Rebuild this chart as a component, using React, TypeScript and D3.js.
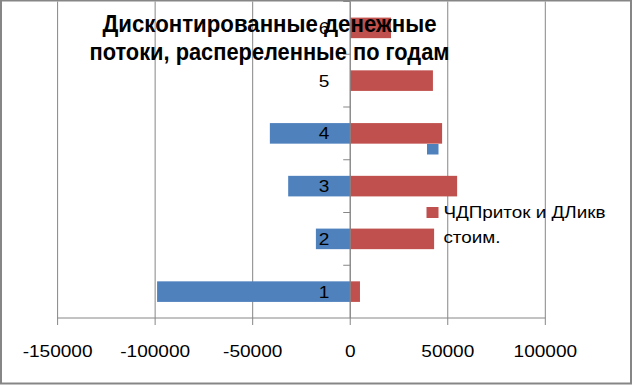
import * as d3 from "d3";

const categories = ["1", "2", "3", "4", "5", "6"];
const outflows = [-99000, -17600, -31800, -41200, 0, 0];
const inflows = [5000, 43000, 54800, 47100, 42400, 20900];
const xTicks = [-150000, -100000, -50000, 0, 50000, 100000];
const titleLines = ["Дисконтированные денежные", "потоки, распереленные по годам"];
const legendLines = ["ЧДПриток и ДЛикв", "стоим."];

const W = 632;
const H = 386;
const BLUE = "#4F81BD";
const RED = "#C0504D";
const GRID = "#868686";
const FONT = "'Liberation Sans', Arial, sans-serif";

// текст в оригинале растянут по горизонтали, поэтому scale(sx, 1)
function Stretch({ x, y, sx, anchor, size, children }: {
  x: number; y: number; sx: number; anchor: "start" | "middle" | "end"; size: number; children: string;
}) {
  return (
    <text transform={`translate(${x},${y}) scale(${sx},1)`} textAnchor={anchor}
      fontFamily={FONT} fontSize={size} fill="#000">
      {children}
    </text>
  );
}

export default function App() {
  const plot = { left: 57.6, right: 545.3, top: 1.5, bottom: 318 };

  const x = d3.scaleLinear().domain([-150000, 100000]).range([plot.left, plot.right]);
  const yBand = d3.scaleBand<string>().domain(categories).range([plot.bottom, plot.top])
    .paddingInner(0.61).paddingOuter(0.305);
  const ySlot = d3.scaleBand<string>().domain(categories).range([plot.bottom, plot.top]);

  const bars = categories.flatMap((c, i) => [
    { c, v: outflows[i], color: BLUE },
    { c, v: inflows[i], color: RED },
  ]).filter((b) => b.v !== 0);

  const x0 = x(0);

  return (
    <>
      <style>{"body{margin:0}"}</style>
      <svg width={W} height={H} style={{ display: "block" }}>
        <rect x={0} y={0} width={W} height={H} fill="#fff" />

        {/* сетка */}
        {xTicks.map((t) => (
          <line key={`g${t}`} x1={x(t)} x2={x(t)} y1={plot.top} y2={plot.bottom} stroke={GRID} strokeWidth={1} />
        ))}

        {/* столбцы */}
        {bars.map((b, i) => (
          <rect key={i} x={Math.min(x(b.v), x0)} width={Math.abs(x(b.v) - x0)}
            y={yBand(b.c)!} height={yBand.bandwidth()} fill={b.color} />
        ))}

        {/* оси */}
        <line x1={plot.left} x2={plot.right} y1={plot.bottom} y2={plot.bottom} stroke={GRID} strokeWidth={1} />
        {xTicks.map((t) => (
          <line key={`t${t}`} x1={x(t)} x2={x(t)} y1={plot.bottom} y2={plot.bottom + 7} stroke={GRID} strokeWidth={1} />
        ))}
        <line x1={x0} x2={x0} y1={plot.top} y2={plot.bottom} stroke={GRID} strokeWidth={1} />
        {categories.map((c) => (
          <line key={`ct${c}`} x1={x0 - 7} x2={x0} y1={ySlot(c)!} y2={ySlot(c)!} stroke={GRID} strokeWidth={1} />
        ))}

        {xTicks.map((t) => (
          <Stretch key={`l${t}`} x={x(t)} y={357} sx={1.19} anchor="middle" size={16}>{String(t)}</Stretch>
        ))}
        {categories.map((c) => (
          <Stretch key={`cl${c}`} x={x0 - 21} y={yBand(c)! + yBand.bandwidth() / 2 + 6} sx={1.19} anchor="end" size={16}>{c}</Stretch>
        ))}

        {/* легенда */}
        <rect x={427} y={144} width={11.5} height={10.5} fill={BLUE} />
        <rect x={426.5} y={207} width={12} height={11} fill={RED} />
        {legendLines.map((s, i) => (
          <Stretch key={s} x={443.4} y={218 + i * 25} sx={1.18} anchor="start" size={16}>{s}</Stretch>
        ))}

        {/* заголовок поверх графика */}
        {titleLines.map((s, i) => (
          <text key={s} x={269.5} y={32 + i * 28} textAnchor="middle" fontFamily={FONT}
            fontWeight="bold" fontSize={24} textLength={i === 0 ? 334 : 360} lengthAdjust="spacingAndGlyphs">
            {s}
          </text>
        ))}

        <rect x={1} y={0.5} width={W - 2} height={383} fill="none" stroke={GRID} strokeWidth={2} />
      </svg>
    </>
  );
}
